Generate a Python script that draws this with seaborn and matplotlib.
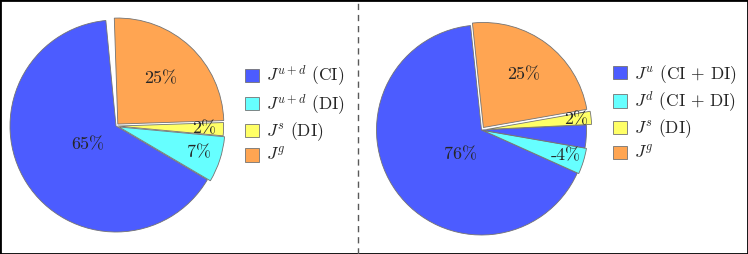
import matplotlib
matplotlib.use("Agg")
import numpy as np
import matplotlib.pyplot as plt
import seaborn as sns
from matplotlib.lines import Line2D
from matplotlib.patches import Rectangle

# ------------------------------------------------------------------
# data
# ------------------------------------------------------------------
left_labels = [r'$J^{u+d}$ (CI)', r'$J^{u+d}$ (DI)', r'$J^{s}$ (DI)', r'$J^{g}$']
left_fracs = [0.65, 0.07, 0.02, 0.25]          # sums to 0.99 -> small gap at the top
left_pct = ['65%', '7%', '2%', '25%']

right_labels = [r'$J^{u}$ (CI + DI)', r'$J^{d}$ (CI + DI)', r'$J^{s}$ (DI)', r'$J^{g}$']
right_pct = ['76%', '-4%', '2%', '25%']
# visible wedge areas (percent of the disc), going counter-clockwise from the top
right_wedges = [66.6, 4.0, 3.5, 2.0, 23.9]
right_series = [0, 1, 0, 2, 3]                 # legend entry of each wedge

# ------------------------------------------------------------------
# style
# ------------------------------------------------------------------
sns.set_style("white")
plt.rcParams.update({
    'font.family': ['cmr10', 'DejaVu Serif'],
    'mathtext.fontset': 'cm',
    'axes.unicode_minus': False,
    'axes.formatter.use_mathtext': True,
})
palette = sns.color_palette(['#4C5CFF', '#66FFFF', '#FFFF66', '#FFA552'])
wedge_kw = dict(edgecolor='0.45', linewidth=0.6)
legend_kw = dict(loc='center left', frameon=False, fontsize=12.5, handlelength=0.8,
                 handleheight=0.8, handletextpad=0.4, labelspacing=0.22,
                 borderpad=0, borderaxespad=0)

W, H = 748, 254
fig = plt.figure(figsize=(W / 100, H / 100), dpi=100)


def pie_axes(cx, cy, r, lim=1.15):
    # cx, cy: centre in pixels (y from top), r: radius in pixels
    size = 2 * lim * r
    ax = fig.add_axes([(cx - size / 2) / W, (H - cy - size / 2) / H, size / W, size / H])
    ax.set_axis_off()
    return ax, lim


def put_labels(ax, wedges, series, texts, radii):
    for k, (s, rr) in enumerate(zip(texts, radii)):
        idx = [i for i, g in enumerate(series) if g == k]
        t1 = wedges[idx[0]].theta1
        t2 = wedges[idx[-1]].theta2
        mid = np.deg2rad((t1 + t2) / 2)
        c = wedges[idx[0]].center
        ax.text(c[0] + rr * np.cos(mid), c[1] + rr * np.sin(mid), s,
                ha='center', va='center', fontsize=13)


# ---- left pie ----
axl, lim = pie_axes(116, 126, 106)
wl, _ = axl.pie(left_fracs, normalize=False, startangle=95.5, counterclock=True,
                colors=palette, explode=[0, 0.03, 0.015, 0.025], wedgeprops=wedge_kw)
axl.set_xlim(-lim, lim)
axl.set_ylim(-lim, lim)
put_labels(axl, wl, [0, 1, 2, 3], left_pct, [0.32, 0.79, 0.82, 0.59])
fig.legend(wl, left_labels, bbox_to_anchor=(245 / W, 140 / H), **legend_kw)

# ---- right pie ----
axr, lim = pie_axes(481.5, 130, 105)
wr, _ = axr.pie(right_wedges, startangle=96, counterclock=True,
                colors=[palette[g] for g in right_series],
                explode=[0, 0.015, 0, 0.05, 0.03], wedgeprops=wedge_kw)
axr.set_xlim(-lim, lim)
axr.set_ylim(-lim, lim)
put_labels(axr, wr, right_series, right_pct, [0.31, 0.82, 0.86, 0.63])
fig.legend([wr[0], wr[1], wr[3], wr[4]], right_labels,
           bbox_to_anchor=(613 / W, 142 / H), **legend_kw)

# separator + frame
fig.add_artist(Line2D([358 / W, 358 / W], [0, 1], transform=fig.transFigure,
                      color='0.35', lw=1.0, ls=(0, (4.5, 3.5))))
fig.add_artist(Rectangle((0, 0), 1, 1, transform=fig.transFigure, fill=False,
                         edgecolor='black', lw=2.0, clip_on=False))

fig.savefig('out.png', dpi=100)
